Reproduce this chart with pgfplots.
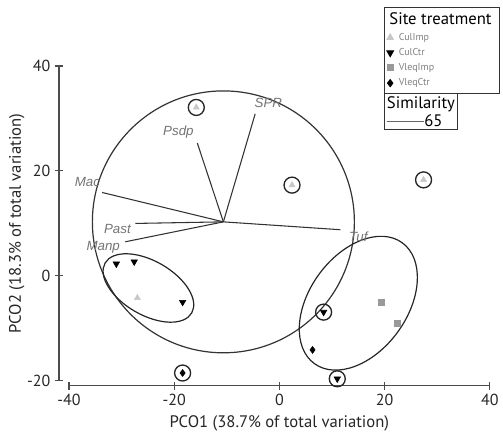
\documentclass[border=0pt]{standalone}
\usepackage{pgfplots}
\pgfplotsset{compat=1.18}
\usepackage{fontspec}
\setmainfont{PT Sans}
\setsansfont{PT Sans}
\newfontfamily\labfont{Liberation Sans}
\begin{document}
\begin{tikzpicture}
\begin{axis}[
  scale only axis,
  width=315.75pt, height=236.25pt,
  xmin=-40, xmax=40, ymin=-20, ymax=40,
  axis lines=left,
  axis line style={-, draw=black!70, line width=0.9pt},
  axis x line shift=3.75pt,
  axis y line shift=7.5pt,
  xtick={-40,-20,0,20,40}, ytick={-20,0,20,40},
  tick align=center,
  major tick length=6pt,
  tick style={black!70, line width=0.8pt},
  /pgf/number format/assume math mode=true,
  ticklabel style={font=\fontsize{12}{14}\selectfont, text=black!85},
  xlabel={PCO1 (38.7\% of total variation)},
  ylabel={PCO2 (18.3\% of total variation)},
  label style={font=\fontsize{12.5}{15}\selectfont, text=black!85},
  ylabel style={yshift=-5pt},
  clip=false,
  legend image code/.code={\draw[#1] plot coordinates {(0pt,0pt)};},
  legend style={at={(rel axis cs:0.748,1.187)}, anchor=north west,
    draw=black!80, line width=0.8pt, font=\fontsize{7.5}{8}\selectfont,
    text=black!50, row sep=0.6pt, inner sep=2pt, column sep=2pt},
  legend cell align=left,
]
\coordinate (ll) at (axis cs:-40,-20);
\addlegendimage{empty legend}
\addlegendentry{\hspace*{-7pt}\fontsize{12.5}{14}\selectfont\color{black}Site treatment\hspace*{2pt}}
% similarity contours and vector circle
\draw[black!80, line width=0.9pt] (axis cs:-10.65,10.3) ellipse [x radius=24.9, y radius=24.95];
\draw[black!85, line width=0.9pt, rotate around={-30:(axis cs:-24.9,-2.3)}] (axis cs:-24.9,-2.3) ellipse [x radius=9.5, y radius=5.14];
\draw[black!85, line width=0.9pt, rotate around={54:(axis cs:15.0,-5.2)}] (axis cs:15.0,-5.2) ellipse [x radius=14.2, y radius=9.3];
% vectors
\addplot[black!80, line width=0.8pt, forget plot] coordinates {(-10.65,10.3) (-4.6,30.9)};
\addplot[black!80, line width=0.8pt, forget plot] coordinates {(-10.65,10.3) (-15.6,25.3)};
\addplot[black!80, line width=0.8pt, forget plot] coordinates {(-10.65,10.3) (-33.7,15.9)};
\addplot[black!80, line width=0.8pt, forget plot] coordinates {(-10.65,10.3) (-27.4,10.0)};
\addplot[black!80, line width=0.8pt, forget plot] coordinates {(-10.65,10.3) (-29.3,6.5)};
\addplot[black!80, line width=0.8pt, forget plot] coordinates {(-10.65,10.3) (11.6,8.8)};
\begin{scope}[every node/.style={font=\labfont\itshape\fontsize{10}{11}\selectfont, text=black!55}]
\node at (axis cs:-2.1,33.0) {SPR};
\node at (axis cs:-19.2,27.4) {Psdp};
\node at (axis cs:-36.5,17.9) {Mac};
\node at (axis cs:-30.8,9.0) {Past};
\node at (axis cs:-33.5,5.5) {Manp};
\node at (axis cs:15.0,7.4) {Tuf};
\end{scope}
% singleton circles
\addplot[only marks, mark=o, mark size=6pt, mark options={line width=1pt, draw=black!85}, forget plot]
  coordinates {(-15.8,32.1) (2.4,17.3) (27.4,18.3) (8.4,-6.9) (11.0,-19.6) (-18.4,-18.5)};
% samples
\addplot[only marks, mark=triangle*, mark size=2.6pt, mark options={fill=black!22, draw=black!22}]
  coordinates {(-27.0,-4.2) (-15.8,32.1) (2.4,17.3) (27.4,18.3)};
\addlegendentry{CulImp}
\addplot[only marks, mark=triangle*, mark size=2.8pt, mark options={rotate=180, fill=black, draw=black}]
  coordinates {(-31.0,2.3) (-27.6,2.7) (-18.4,-5.0) (8.4,-6.9) (11.0,-19.6)};
\addlegendentry{CulCtr}
\addplot[only marks, mark=square*, mark size=2.2pt, mark options={fill=black!40, draw=black!40}]
  coordinates {(19.4,-5.1) (22.4,-9.1)};
\addlegendentry{VleqImp}
\addplot[only marks, mark=diamond*, mark size=2.6pt, mark options={fill=black, draw=black}]
  coordinates {(-18.4,-18.5) (6.3,-14.1)};
\addlegendentry{VleqCtr}
\node[draw=black!80, line width=0.8pt, anchor=north west, inner sep=2pt, align=left,
  font=\fontsize{12.5}{14}\selectfont] at (rel axis cs:0.748,0.914)
  {Similarity\\{\color{black!60}\rule[0.3em]{28pt}{0.9pt}}65};
\end{axis}
\path[use as bounding box] ([shift={(-51.75pt,-43.5pt)}]ll) rectangle ([shift={(325.5pt,285.75pt)}]ll);
\end{tikzpicture}
\end{document}
